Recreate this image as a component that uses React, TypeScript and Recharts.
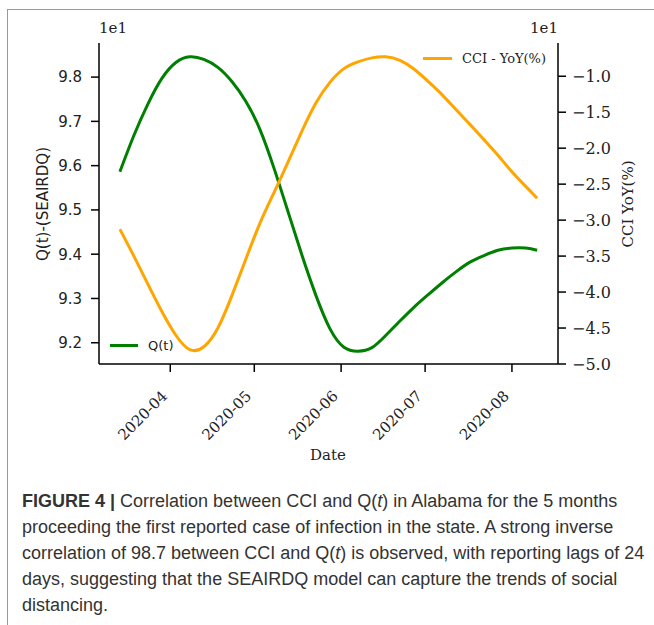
import React from "react";
import { LineChart, Line, XAxis, YAxis } from "recharts";

// days counted from 2020-03-14
const days = [0, 5, 10, 15, 20, 25, 30, 35, 40, 45, 50, 55, 60, 65, 70, 75, 80, 85, 90, 95, 100, 105, 110, 115, 120, 125, 130, 135, 140, 145, 149];
const qValues = [9.586, 9.668, 9.739, 9.797, 9.833, 9.846, 9.84, 9.822, 9.79, 9.745, 9.682, 9.595, 9.497, 9.398, 9.307, 9.232, 9.19, 9.181, 9.189, 9.217, 9.249, 9.28, 9.308, 9.335, 9.36, 9.382, 9.397, 9.409, 9.414, 9.414, 9.409];
const cciValues = [-3.126, -3.5, -3.89, -4.27, -4.6, -4.8, -4.76, -4.5, -4.05, -3.54, -3.045, -2.62, -2.197, -1.763, -1.372, -1.085, -0.894, -0.8, -0.745, -0.73, -0.78, -0.9, -1.07, -1.255, -1.463, -1.669, -1.881, -2.098, -2.329, -2.534, -2.696];

const monthTicks = [18, 48, 79, 109, 140];
const monthLabels = ["2020-04", "2020-05", "2020-06", "2020-07", "2020-08"];
const qTicks = [9.2, 9.3, 9.4, 9.5, 9.6, 9.7, 9.8];
const cciTicks = [-5.0, -4.5, -4.0, -3.5, -3.0, -2.5, -2.0, -1.5, -1.0];

const data = days.map((d, i) => ({ day: d, q: qValues[i], cci: cciValues[i] }));

const serif = "DejaVu Serif";
const sans = "DejaVu Sans";

const MonthTick = (props: any) => {
  const { x, y, payload } = props;
  const i = monthTicks.indexOf(payload.value);
  const ax = x - 2;
  const ay = y + 23;
  return (
    <text
      x={ax}
      y={ay}
      transform={`rotate(-45 ${ax} ${ay})`}
      textAnchor="end"
      fontFamily={serif}
      fontSize={15}
      fill="#222"
    >
      {monthLabels[i]}
    </text>
  );
};

export default function App() {
  return (
    <div style={{ position: "relative", width: 654, height: 625, overflow: "hidden", background: "#fff" }}>
      <style>{"body{margin:0}"}</style>
      <div
        style={{
          position: "absolute",
          left: 7,
          top: 9,
          width: 800,
          height: 800,
          borderLeft: "1.5px solid #999",
          borderTop: "1.5px solid #999",
        }}
      />
      <div style={{ position: "absolute", left: 0, top: 0 }}>
        <LineChart width={654} height={470} data={data} margin={{ top: 43, left: 39, right: 36, bottom: 46 }}>
          <XAxis
            xAxisId="top"
            orientation="top"
            type="number"
            dataKey="day"
            domain={[-7.45, 156.45]}
            allowDataOverflow
            height={0}
            tick={false}
            tickLine={false}
            axisLine={{ stroke: "#000", strokeWidth: 1.5 }}
          />
          <XAxis
            type="number"
            dataKey="day"
            domain={[-7.45, 156.45]}
            allowDataOverflow
            ticks={monthTicks}
            tick={<MonthTick />}
            tickSize={8}
            height={60}
            interval={0}
            axisLine={{ stroke: "#000", strokeWidth: 1.5 }}
            tickLine={{ stroke: "#000", strokeWidth: 1.5 }}
          />
          <YAxis
            yAxisId="left"
            orientation="left"
            width={60}
            domain={[9.152, 9.877]}
            allowDataOverflow
            ticks={qTicks}
            interval={0}
            tickFormatter={(v: number) => v.toFixed(1)}
            tickSize={8}
            tickMargin={9}
            tick={{ fontFamily: sans, fontSize: 15, fill: "#222" }}
            axisLine={{ stroke: "#000", strokeWidth: 1.5 }}
            tickLine={{ stroke: "#000", strokeWidth: 1.5 }}
          />
          <YAxis
            yAxisId="right"
            orientation="right"
            width={60}
            domain={[-5.0, -0.538]}
            allowDataOverflow
            ticks={cciTicks}
            interval={0}
            tickFormatter={(v: number) => v.toFixed(1).replace("-", "\u2212")}
            tickSize={8}
            tickMargin={6}
            tick={{ fontFamily: serif, fontSize: 16, fill: "#222" }}
            axisLine={{ stroke: "#000", strokeWidth: 1.5 }}
            tickLine={{ stroke: "#000", strokeWidth: 1.5 }}
          />
          <Line
            yAxisId="left"
            type="natural"
            dataKey="q"
            stroke="#008000"
            strokeWidth={3}
            dot={false}
            isAnimationActive={false}
          />
          <Line
            yAxisId="right"
            type="natural"
            dataKey="cci"
            stroke="#FFA500"
            strokeWidth={3}
            dot={false}
            isAnimationActive={false}
          />
        </LineChart>
      </div>

      {/* offset texts */}
      <div style={{ position: "absolute", left: 99, top: 19, fontFamily: serif, fontSize: 15, color: "#222" }}>1e1</div>
      <div style={{ position: "absolute", right: 96, top: 19, fontFamily: serif, fontSize: 15, color: "#222" }}>1e1</div>

      {/* axis titles */}
      <div
        style={{
          position: "absolute",
          left: 43,
          top: 204,
          transform: "translate(-50%, -50%) rotate(-90deg)",
          fontFamily: sans,
          fontSize: 15,
          color: "#222",
          whiteSpace: "nowrap",
        }}
      >
        Q(t)-(SEAIRDQ)
      </div>
      <div
        style={{
          position: "absolute",
          left: 628,
          top: 204,
          transform: "translate(-50%, -50%) rotate(-90deg)",
          fontFamily: serif,
          fontSize: 15,
          color: "#222",
          whiteSpace: "nowrap",
        }}
      >
        CCI YoY(%)
      </div>
      <div
        style={{
          position: "absolute",
          left: 328,
          top: 455,
          transform: "translate(-50%, -50%)",
          fontFamily: serif,
          fontSize: 15,
          color: "#222",
        }}
      >
        Date
      </div>

      {/* legends */}
      <div style={{ position: "absolute", left: 423, top: 51, display: "flex", alignItems: "center", fontFamily: serif, fontSize: 13, color: "#222" }}>
        <span style={{ display: "inline-block", width: 29, height: 3, background: "#FFA500", marginRight: 10 }} />
        CCI - YoY(%)
      </div>
      <div style={{ position: "absolute", left: 110, top: 338, display: "flex", alignItems: "center", fontFamily: sans, fontSize: 13, color: "#222" }}>
        <span style={{ display: "inline-block", width: 28, height: 3, background: "#008000", marginRight: 10 }} />
        Q(t)
      </div>

      {/* caption */}
      <div
        style={{
          position: "absolute",
          left: 22,
          top: 488,
          fontFamily: "Liberation Sans, Arial, sans-serif",
          fontSize: 18,
          lineHeight: "26px",
          color: "#333",
          whiteSpace: "nowrap",
        }}
      >
        <b>FIGURE 4 |</b> Correlation between CCI and Q(<i>t</i>) in Alabama for the 5 months
        <br />
        proceeding the first reported case of infection in the state. A strong inverse
        <br />
        correlation of 98.7 between CCI and Q(<i>t</i>) is observed, with reporting lags of 24
        <br />
        days, suggesting that the SEAIRDQ model can capture the trends of social
        <br />
        distancing.
      </div>
    </div>
  );
}
